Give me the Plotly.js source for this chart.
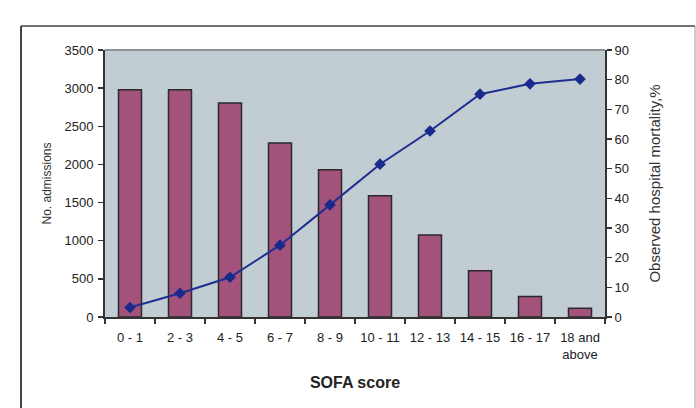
<!DOCTYPE html>
<html>
<head>
<meta charset="utf-8">
<script src="https://cdn.plot.ly/plotly-3.0.1.min.js"></script>
<style>html,body{margin:0;padding:0;background:#fff;}#chart{width:696px;height:408px;}</style>
</head>
<body>
<div id="chart"></div>
<script>
const categories = ["0 - 1", "2 - 3", "4 - 5", "6 - 7", "8 - 9", "10 - 11", "12 - 13", "14 - 15", "16 - 17", "18 and<br>above"];
const admissions = [2980, 2980, 2805, 2280, 1930, 1590, 1075, 605, 270, 115];
const mortality = [3.2, 8.0, 13.4, 24.2, 37.8, 51.5, 62.7, 75.1, 78.6, 80.2];
const leftTicks = [0, 500, 1000, 1500, 2000, 2500, 3000, 3500];
const rightTicks = [0, 10, 20, 30, 40, 50, 60, 70, 80, 90];

const FAM = "Liberation Sans, Arial, sans-serif";
const font = {family: FAM, size: 13, color: "#222"};
const axisCol = "#333";

const traces = [
  {
    type: "bar", x: categories, y: admissions, xaxis: "x", yaxis: "y",
    width: 0.46,
    marker: {color: "#a3527b", line: {color: "#2a2a2a", width: 1.5}},
    hoverinfo: "skip"
  },
  {
    type: "scatter", mode: "lines+markers", x: categories, y: mortality, xaxis: "x", yaxis: "y2",
    line: {color: "#1f2e8f", width: 2},
    marker: {symbol: "diamond", size: 9, color: "#1a2a8a"},
    hoverinfo: "skip"
  }
];

const layout = {
  width: 696, height: 408,
  margin: {l: 105, r: 91, t: 50, b: 91},
  paper_bgcolor: "#ffffff",
  plot_bgcolor: "#c1cdd3",
  showlegend: false,
  font: font,
  bargap: 0.54,
  xaxis: {
    type: "category", range: [-0.5, 9.5], tickson: "boundaries",
    ticks: "outside", ticklen: 5, tickwidth: 1.5, tickcolor: axisCol,
    showline: true, linecolor: axisCol, linewidth: 2,
    showgrid: false, zeroline: false, tickfont: font, ticklabelstandoff: 7,
    title: {text: "SOFA score", font: {family: FAM, size: 16, color: "#222", weight: "bold"}, standoff: 16}
  },
  xaxis2: {
    type: "category", overlaying: "x", anchor: "y", range: [-0.5, 9.5], tickson: "boundaries",
    tickmode: "array", tickvals: categories, ticktext: categories.map(() => ""),
    ticks: "inside", ticklen: 4, tickwidth: 1.5, tickcolor: axisCol,
    showline: false, showgrid: false, zeroline: false, showticklabels: false
  },
  yaxis: {
    range: [0, 3500], tickmode: "array", tickvals: leftTicks,
    ticks: "outside", ticklen: 5, tickwidth: 1.5, tickcolor: axisCol,
    showline: true, linecolor: axisCol, linewidth: 2,
    showgrid: false, zeroline: false, tickfont: font, ticklabelstandoff: 2,
    title: {text: "No. admissions", font: {family: FAM, size: 12, color: "#333"}, standoff: 10}
  },
  yaxis2: {
    range: [0, 90], overlaying: "y", side: "right", anchor: "x", tickmode: "array", tickvals: rightTicks,
    ticks: "outside", ticklen: 5, tickwidth: 1.5, tickcolor: axisCol,
    showline: true, linecolor: axisCol, linewidth: 2,
    showgrid: false, zeroline: false, tickfont: font,
    title: {text: "Observed hospital mortality,%", font: {family: FAM, size: 15, color: "#333"}, standoff: 21}
  },
  yaxis3: {
    range: [0, 3500], overlaying: "y", side: "left", anchor: "x", tickmode: "array", tickvals: leftTicks,
    ticks: "inside", ticklen: 4, tickwidth: 1.5, tickcolor: axisCol,
    showline: false, showgrid: false, zeroline: false, showticklabels: false
  },
  yaxis4: {
    range: [0, 90], overlaying: "y", side: "right", anchor: "x", tickmode: "array", tickvals: rightTicks,
    ticks: "inside", ticklen: 4, tickwidth: 1.5, tickcolor: axisCol,
    showline: false, showgrid: false, zeroline: false, showticklabels: false
  },
  shapes: [
    {type: "line", xref: "paper", yref: "paper", x0: 0, x1: 1, y0: 1, y1: 1, line: {color: "#8c9498", width: 2}},
    {type: "line", xref: "paper", yref: "paper", x0: -0.168, x1: -0.168, y0: 1.09, y1: -0.5, line: {color: "#444", width: 2}},
    {type: "line", xref: "paper", yref: "paper", x0: -0.168, x1: 1.18, y0: 1.09, y1: 1.09, line: {color: "#444", width: 1.5}},
    {type: "line", xref: "paper", yref: "paper", x0: 1.18, x1: 1.18, y0: 1.09, y1: -0.5, line: {color: "#999", width: 1}}
  ]
};

Plotly.newPlot("chart", traces, layout, {displayModeBar: false, staticPlot: true});
</script>
</body>
</html>
